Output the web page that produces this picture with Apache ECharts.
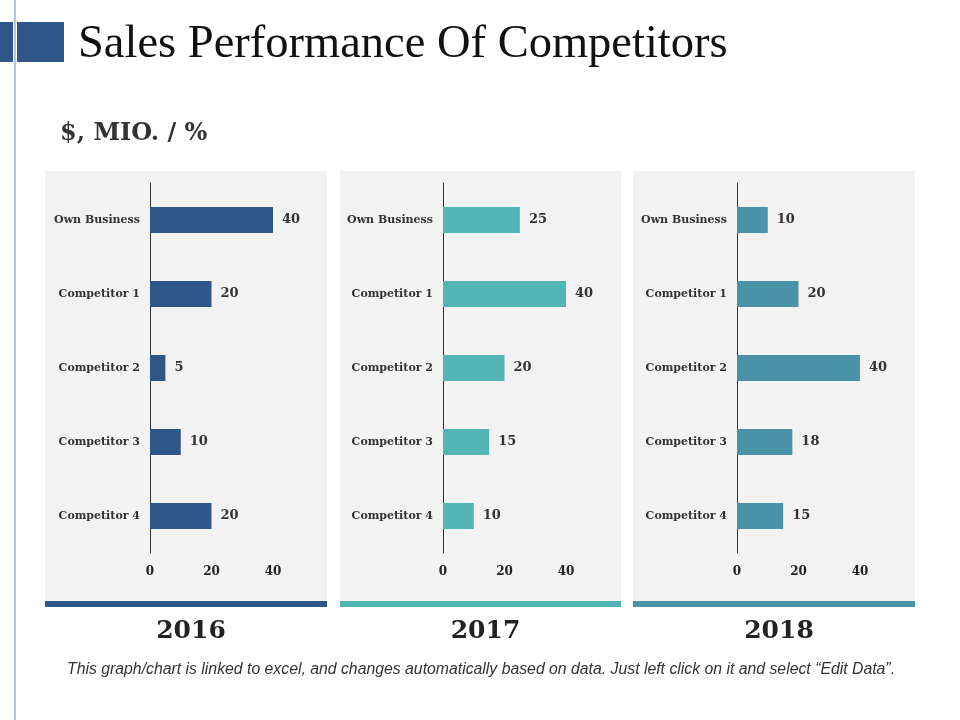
<!DOCTYPE html>
<html>
<head>
<meta charset="utf-8">
<title>Sales Performance Of Competitors</title>
<script src="https://cdn.jsdelivr.net/npm/echarts@6/dist/echarts.min.js"></script>
<style>
  html, body { margin: 0; padding: 0; background: #fff; }
  #main { width: 960px; height: 720px; }
</style>
</head>
<body>
<div id="main"></div>
<script>
// data
var categories = ['Own Business', 'Competitor 1', 'Competitor 2', 'Competitor 3', 'Competitor 4'];
var years = ['2016', '2017', '2018'];
var values2016 = [40, 20, 5, 10, 20];
var values2017 = [25, 40, 20, 15, 10];
var values2018 = [10, 20, 40, 18, 15];
var axisTicks = [0, 20, 40];

var allValues = [values2016, values2017, values2018];
var colors = ['#2f5689', '#52b5b3', '#4a92a6'];
var serif = "Georgia, 'DejaVu Serif', serif";

// panel boxes (left edge, width)
var panels = [
    { x: 45, w: 282, axisX: 150 },
    { x: 340, w: 281, axisX: 443 },
    { x: 633, w: 282, axisX: 737 }
];
var plotW = 123;

var chart = echarts.init(document.getElementById('main'));

var grids = [], xAxes = [], yAxes = [], series = [], titles = [], graphics = [];

// left decoration
graphics.push({ type: 'rect', shape: { x: 0, y: 22, width: 13, height: 40 }, style: { fill: '#2f5689' }, z: -1 });
graphics.push({ type: 'rect', shape: { x: 17, y: 22, width: 47, height: 40 }, style: { fill: '#2f5689' }, z: -1 });
graphics.push({ type: 'line', shape: { x1: 15, y1: 0, x2: 15, y2: 720 }, style: { stroke: '#8fb8c4', lineWidth: 1.5 }, z: -1 });

titles.push({
    text: 'Sales Performance Of Competitors',
    left: 73, top: 16,
    textStyle: { fontFamily: "'Liberation Serif', 'Times New Roman', serif", fontSize: 46.5, fontWeight: 'normal', color: '#111' }
});
titles.push({
    text: '$, MIO. / %',
    left: 55, top: 117,
    textStyle: { fontFamily: serif, fontSize: 24, fontWeight: 'bold', color: '#333' }
});
titles.push({
    text: 'This graph/chart is linked to excel, and changes automatically based on data. Just left click on it and select \u201cEdit Data\u201d.',
    left: 62, top: 657,
    textStyle: { fontFamily: "'Liberation Sans', Arial, sans-serif", fontSize: 15.8, fontStyle: 'italic', fontWeight: 'normal', color: '#333' }
});

panels.forEach(function (p, i) {
    graphics.push({ type: 'rect', shape: { x: p.x, y: 171, width: p.w, height: 431 }, style: { fill: '#f2f2f2' }, z: -2 });
    graphics.push({ type: 'rect', shape: { x: p.x, y: 601, width: p.w, height: 6 }, style: { fill: colors[i] }, z: -2 });

    titles.push({
        text: years[i],
        left: p.x + p.w / 2, top: 614,
        textAlign: 'center',
        textStyle: { fontFamily: serif, fontSize: 25, fontWeight: 'bold', color: '#222' }
    });

    grids.push({ left: p.axisX, top: 183, width: plotW, height: 370, containLabel: false });

    xAxes.push({
        type: 'value', gridIndex: i,
        min: axisTicks[0], max: axisTicks[axisTicks.length - 1], interval: 20,
        axisLine: { show: false }, axisTick: { show: false }, splitLine: { show: false },
        axisLabel: { margin: 13, fontFamily: serif, fontSize: 12, fontWeight: 'bold', color: '#222' }
    });

    yAxes.push({
        type: 'category', gridIndex: i, data: categories, inverse: true,
        axisLine: { show: true, lineStyle: { color: '#333', width: 1 } },
        axisTick: { show: false },
        axisLabel: { margin: 10, fontFamily: serif, fontSize: 11, fontWeight: 'bold', color: '#333' }
    });

    series.push({
        type: 'bar', xAxisIndex: i, yAxisIndex: i,
        data: allValues[i], barWidth: 26,
        itemStyle: { color: colors[i] },
        label: {
            show: true, position: 'right', distance: 9,
            fontFamily: serif, fontSize: 13, fontWeight: 'bold', color: '#333'
        }
    });
});

var option = {
    backgroundColor: '#fff',
    animation: false,
    title: titles,
    grid: grids,
    xAxis: xAxes,
    yAxis: yAxes,
    series: series,
    graphic: graphics
};

chart.setOption(option);
</script>
</body>
</html>
